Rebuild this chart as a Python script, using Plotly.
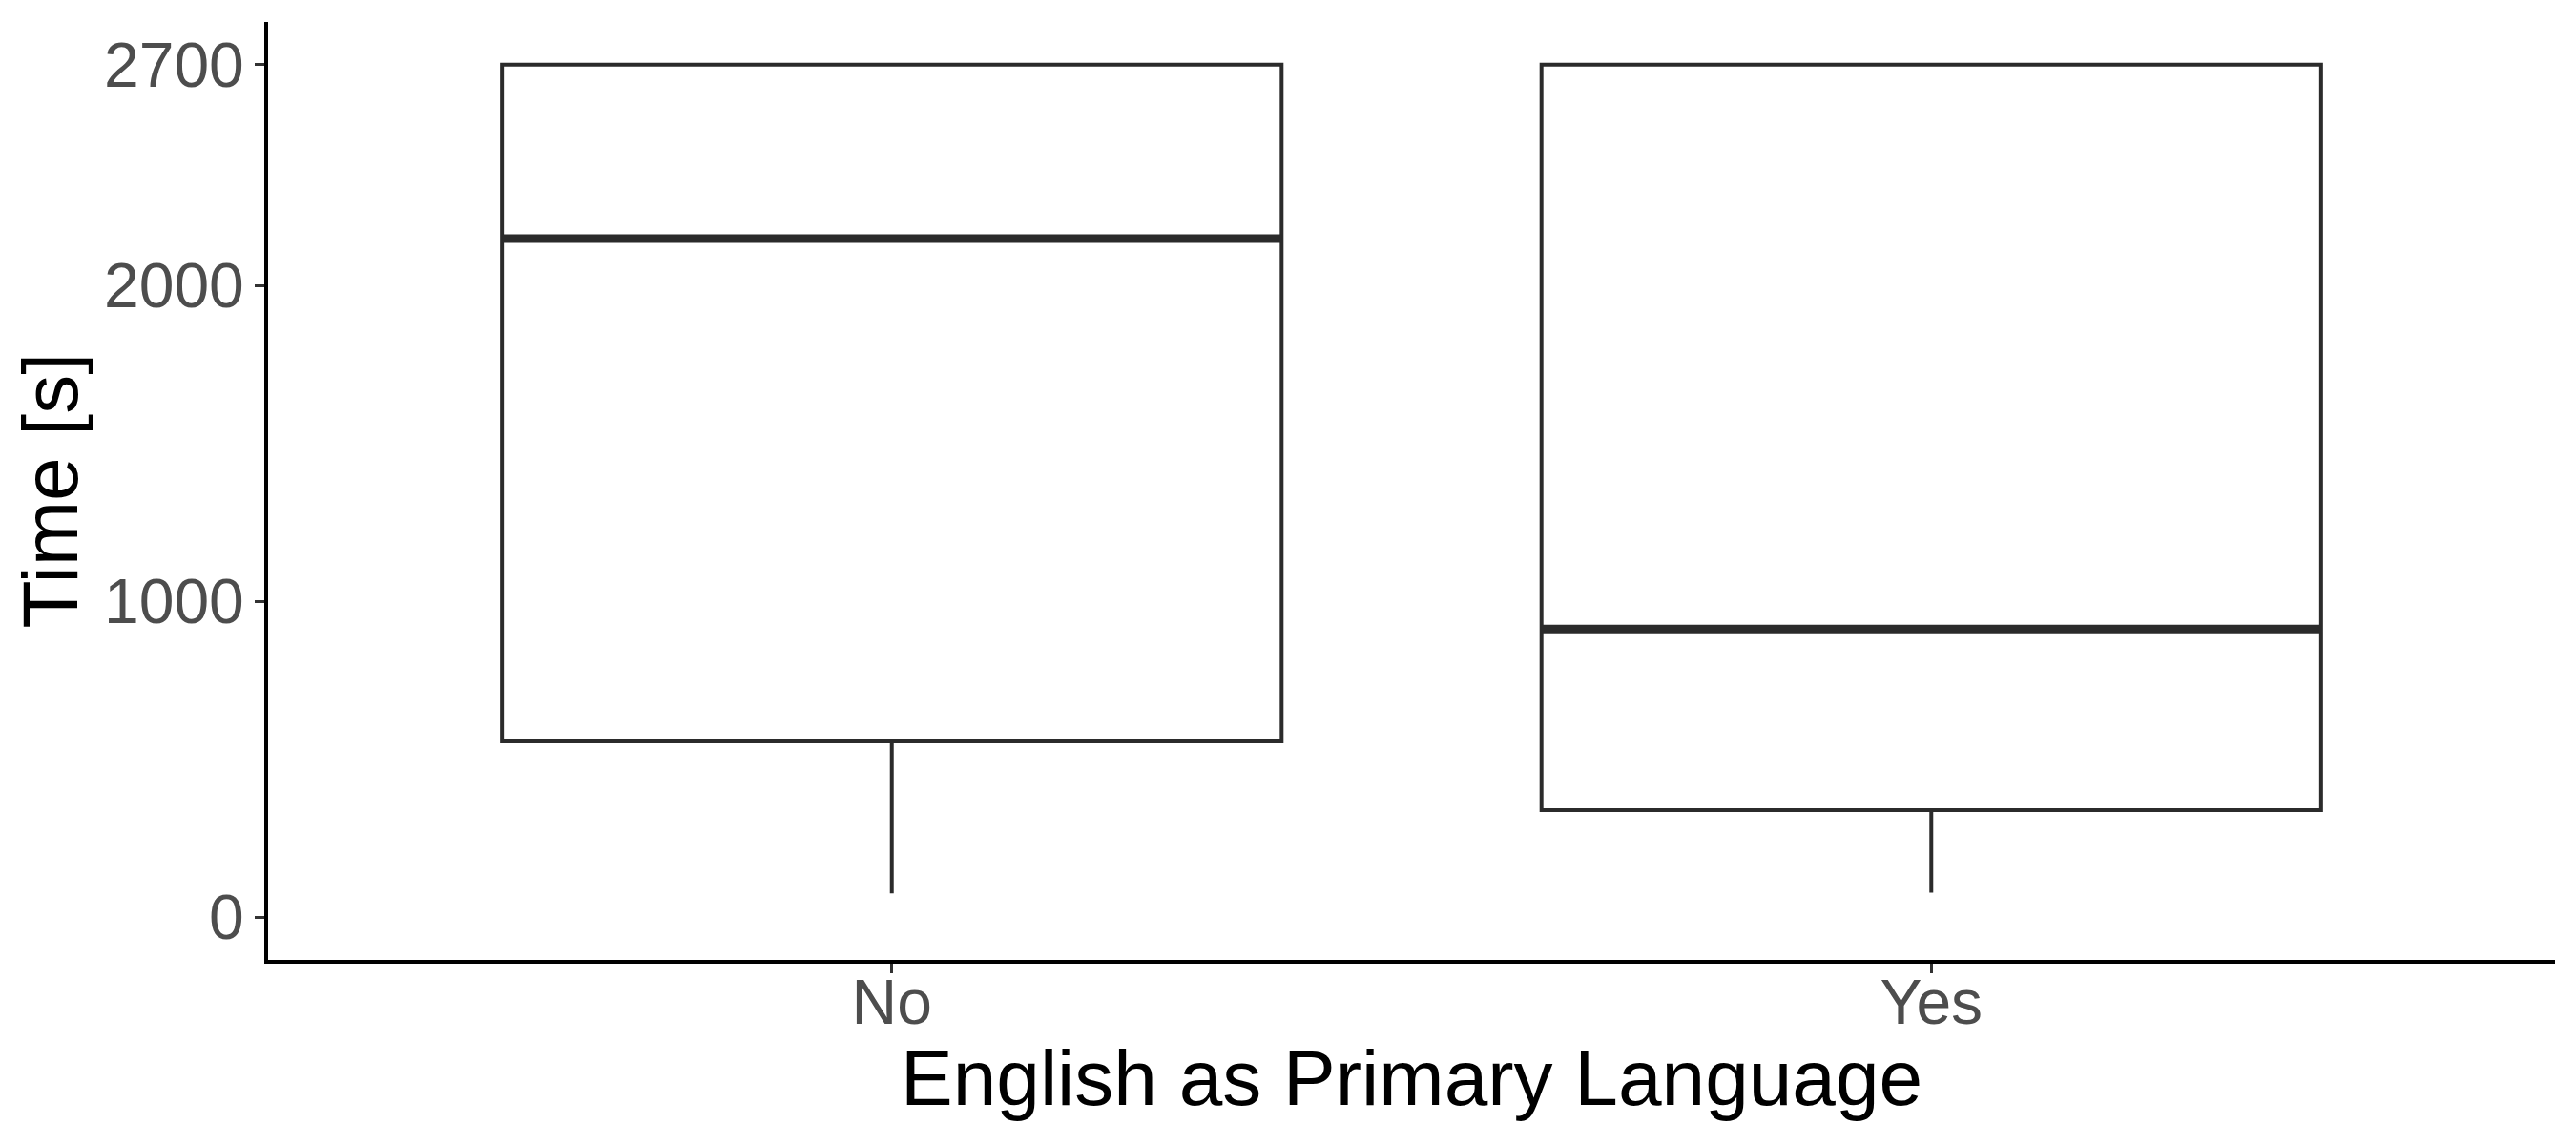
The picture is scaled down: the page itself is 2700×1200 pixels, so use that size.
import plotly.graph_objects as go

categories = ["No", "Yes"]
q1 = [557, 339]
median = [2149, 913]
q3 = [2700, 2700]
lower = [76, 78]
upper = [2700, 2700]
y_ticks = [0, 1000, 2000, 2700]

pos = list(range(len(categories)))
box_w = 0.75

fig = go.Figure()
fig.add_trace(go.Box(
    x=pos, q1=q1, median=median, q3=q3, lowerfence=lower, upperfence=upper,
    width=box_w, whiskerwidth=0, boxpoints=False,
    fillcolor="white", line=dict(color="#2b2b2b", width=4),
    showlegend=False, hoverinfo="skip",
))
mx, my = [], []
for p, m in zip(pos, median):
    mx += [p - box_w / 2, p + box_w / 2, None]
    my += [m, m, None]
fig.add_trace(go.Scatter(x=mx, y=my, mode="lines",
                         line=dict(color="#2b2b2b", width=9),
                         showlegend=False, hoverinfo="skip"))

font_family = "Liberation Sans, Arial, sans-serif"
fig.update_layout(
    width=2700, height=1200,
    margin=dict(l=281, r=22, t=23, b=194),
    plot_bgcolor="white", paper_bgcolor="white",
    font=dict(family=font_family),
    xaxis=dict(range=[-0.6, 1.6], tickvals=pos, ticktext=categories,
               showgrid=False, zeroline=False, showline=True, linecolor="black",
               linewidth=4, ticks="outside", ticklen=10, tickwidth=3,
               tickcolor="#333333", tickfont=dict(size=66, color="#4d4d4d"),
               ticklabelstandoff=-26),
    yaxis=dict(range=[-135, 2835], tickvals=y_ticks,
               ticktext=[str(v) for v in y_ticks],
               showgrid=False, zeroline=False, showline=True, linecolor="black",
               linewidth=4, ticks="outside", ticklen=10, tickwidth=3,
               tickcolor="#333333", tickfont=dict(size=66, color="#4d4d4d"),
               ticklabelstandoff=-2),
    annotations=[
        dict(text="English as Primary Language", xref="paper", yref="paper",
             x=0.5, y=-0.126, xanchor="center", yanchor="middle",
             showarrow=False, font=dict(size=82, color="black")),
        dict(text="Time [s]", xref="paper", yref="paper",
             x=-0.0955, y=0.5, xanchor="center", yanchor="middle", textangle=-90,
             showarrow=False, font=dict(size=82, color="black")),
    ],
)
fig.write_html("out.html")
